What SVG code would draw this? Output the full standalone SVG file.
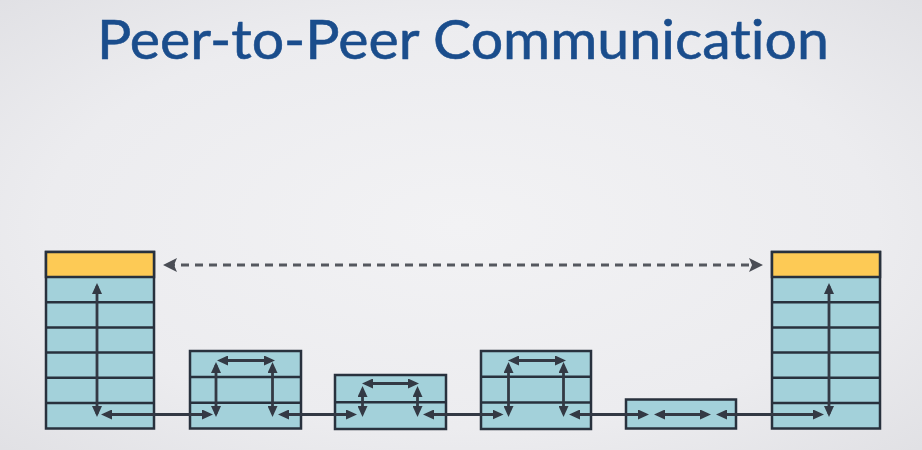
<svg xmlns="http://www.w3.org/2000/svg" width="922" height="450" viewBox="0 0 922 450">
  <defs>
    <radialGradient id="bg" cx="50%" cy="50%" r="75%">
      <stop offset="0" stop-color="#f2f2f4"/>
      <stop offset="0.6" stop-color="#ececef"/>
      <stop offset="1" stop-color="#dfdfe3"/>
    </radialGradient>
    <marker id="ah" markerUnits="userSpaceOnUse" markerWidth="11" markerHeight="10" viewBox="0 0 11 10" refX="8" refY="5" orient="auto-start-reverse">
      <path d="M0,0 L11,5 L0,10 z" fill="#333944"/>
    </marker>
    <marker id="ahd" markerUnits="userSpaceOnUse" markerWidth="14" markerHeight="14" viewBox="0 0 14 14" refX="10" refY="7" orient="auto-start-reverse">
      <path d="M0,0 L14,7 L0,14 L3,7 z" fill="#4a4d55"/>
    </marker>
  </defs>
  <style>
    .title { font-family: "Lato", "Open Sans", "Liberation Sans", sans-serif; font-size: 55px; font-weight: 400; fill: #1a4d8c; stroke: #1a4d8c; stroke-width: 0.6px; font-variant-ligatures: none; font-feature-settings: "liga" 0; }
    .box { fill: #a3d1da; stroke: #28313d; stroke-width: 2.5; }
    .hdr { fill: #fdca55; stroke: #28313d; stroke-width: 2.5; }
    .row { stroke: #28313d; stroke-width: 2.5; }
    .arr { stroke: #333944; stroke-width: 2.8; fill: none; marker-start: url(#ah); marker-end: url(#ah); }
    .dash { stroke: #55585f; stroke-width: 3; stroke-dasharray: 8 6; fill: none; marker-start: url(#ahd); marker-end: url(#ahd); }
  </style>
  <rect x="0" y="0" width="922" height="450" fill="url(#bg)"/>
  <text class="title" x="97" y="59" textLength="732" lengthAdjust="spacingAndGlyphs">Peer-to-Peer Communication</text>

  <g id="stack-left">
    <rect class="box" x="46" y="252" width="108" height="176.5"/>
    <rect class="hdr" x="46" y="252" width="108" height="25"/>
    <line class="row" x1="46" y1="302.2" x2="154" y2="302.2"/>
    <line class="row" x1="46" y1="327.4" x2="154" y2="327.4"/>
    <line class="row" x1="46" y1="352.6" x2="154" y2="352.6"/>
    <line class="row" x1="46" y1="377.8" x2="154" y2="377.8"/>
    <line class="row" x1="46" y1="403" x2="154" y2="403"/>
  </g>
  <g id="node-2">
    <rect class="box" x="190" y="351" width="111" height="77.5"/>
    <line class="row" x1="190" y1="377" x2="301" y2="377"/>
    <line class="row" x1="190" y1="402.7" x2="301" y2="402.7"/>
  </g>
  <g id="node-3">
    <rect class="box" x="335" y="375" width="111" height="54"/>
    <line class="row" x1="335" y1="402.3" x2="446" y2="402.3"/>
  </g>
  <g id="node-4">
    <rect class="box" x="481" y="351" width="110" height="78"/>
    <line class="row" x1="481" y1="376.7" x2="591" y2="376.7"/>
    <line class="row" x1="481" y1="402.5" x2="591" y2="402.5"/>
  </g>
  <g id="node-5">
    <rect class="box" x="626" y="399.5" width="110" height="29"/>
  </g>
  <g id="stack-right">
    <rect class="box" x="772" y="252" width="108" height="176.5"/>
    <rect class="hdr" x="772" y="252" width="108" height="25"/>
    <line class="row" x1="772" y1="302.2" x2="880" y2="302.2"/>
    <line class="row" x1="772" y1="327.4" x2="880" y2="327.4"/>
    <line class="row" x1="772" y1="352.6" x2="880" y2="352.6"/>
    <line class="row" x1="772" y1="377.8" x2="880" y2="377.8"/>
    <line class="row" x1="772" y1="403" x2="880" y2="403"/>
  </g>

  <g id="connectors">
    <line class="dash" x1="167" y1="265" x2="759" y2="265"/>
    <line class="arr" x1="97" y1="286" x2="97" y2="414"/>
    <line class="arr" x1="104" y1="414.5" x2="210" y2="414.5"/>
    <line class="arr" x1="216" y1="365" x2="216" y2="414"/>
    <line class="arr" x1="220" y1="360.5" x2="272" y2="360.5"/>
    <line class="arr" x1="272.5" y1="365" x2="272.5" y2="414"/>
    <line class="arr" x1="281" y1="414.5" x2="354" y2="414.5"/>
    <line class="arr" x1="362.5" y1="389" x2="362.5" y2="414"/>
    <line class="arr" x1="365" y1="383.5" x2="416" y2="383.5"/>
    <line class="arr" x1="417.5" y1="389" x2="417.5" y2="414"/>
    <line class="arr" x1="426" y1="414.5" x2="500.5" y2="414.5"/>
    <line class="arr" x1="508.5" y1="365" x2="508.5" y2="414"/>
    <line class="arr" x1="511" y1="360.5" x2="563" y2="360.5"/>
    <line class="arr" x1="563.5" y1="365" x2="563.5" y2="414"/>
    <line class="arr" x1="572" y1="414.5" x2="646" y2="414.5"/>
    <line class="arr" x1="657" y1="414.5" x2="708" y2="414.5"/>
    <line class="arr" x1="719" y1="414.5" x2="821" y2="414.5"/>
    <line class="arr" x1="829" y1="286" x2="829" y2="414"/>
  </g>
</svg>
